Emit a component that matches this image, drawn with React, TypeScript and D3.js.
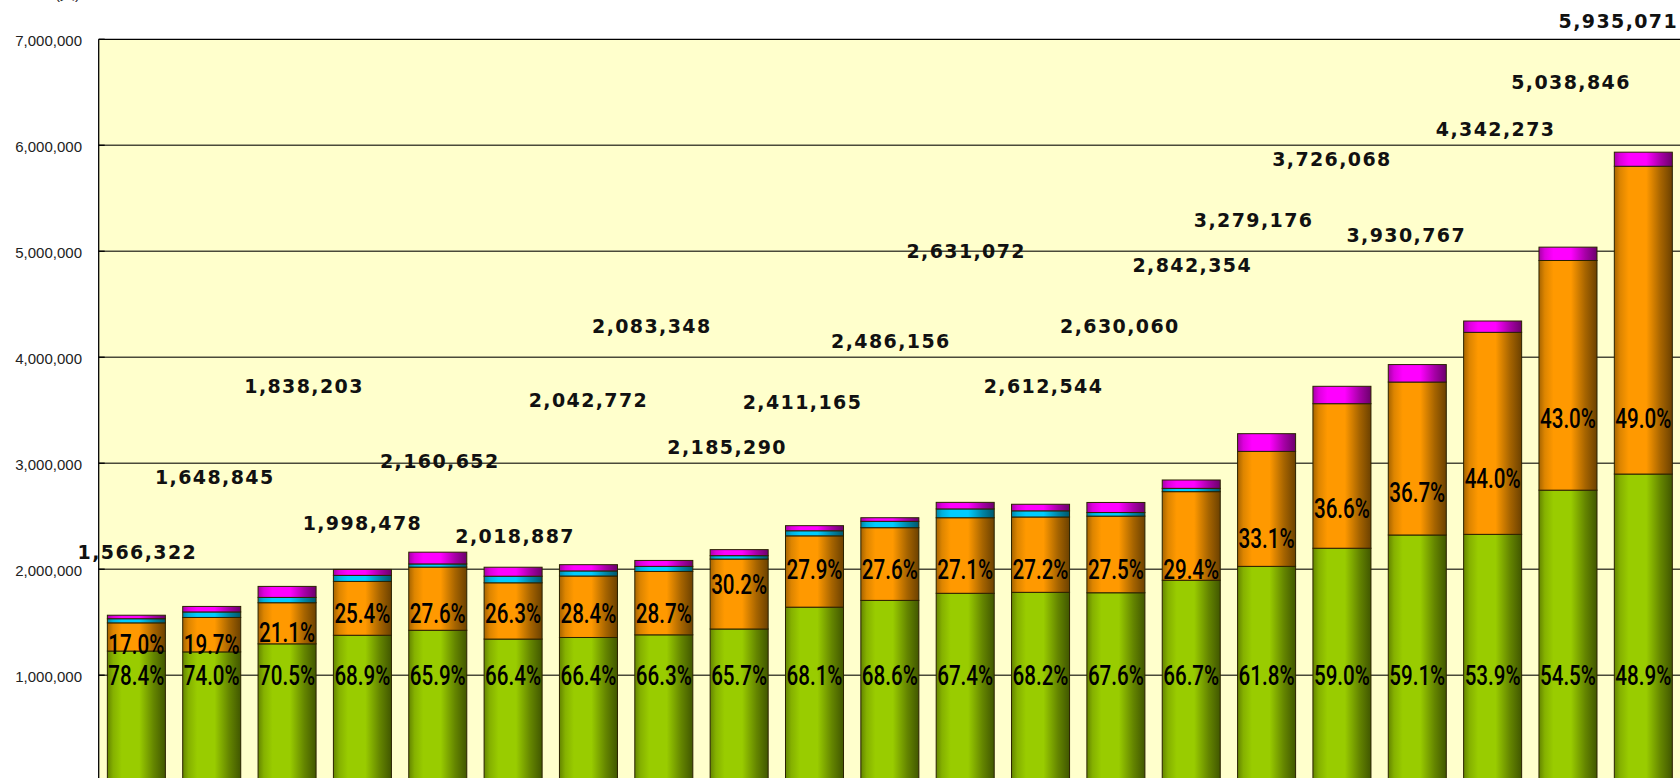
import React from "react";
import * as d3 from "d3";

// 21 stacked bars, bottom to top: green, orange, cyan, magenta
const categories = ["1", "2", "3", "4", "5", "6", "7", "8", "9", "10", "11", "12", "13", "14", "15", "16", "17", "18", "19", "20", "21"];

const greenValues = [1228000, 1220000, 1296000, 1377000, 1424000, 1341000, 1356000, 1381000, 1436000, 1642000, 1706000, 1773000, 1782000, 1778000, 1896000, 2027000, 2198000, 2323000, 2329000, 2746000, 2898000];
const orangeValues = [266000, 325000, 388000, 508000, 596000, 531000, 580000, 598000, 660000, 673000, 686000, 713000, 711000, 723000, 836000, 1085000, 1364000, 1443000, 1906000, 2167000, 2904000];
const cyanValues = [39000, 52000, 50000, 57000, 30000, 62000, 48000, 48000, 32000, 48000, 60000, 83000, 58000, 34000, 31000, 0, 0, 0, 0, 0, 0];
const magentaValues = [33000, 52000, 104000, 56000, 111000, 85000, 59000, 56000, 57000, 48000, 34000, 62000, 62000, 95000, 79000, 167000, 164000, 165000, 107000, 126000, 133000];

const totals = [1566322, 1648845, 1838203, 1998478, 2160652, 2018887, 2042772, 2083348, 2185290, 2411165, 2486156, 2631072, 2612544, 2630060, 2842354, 3279176, 3726068, 3930767, 4342273, 5038846, 5935071];

const greenPct = ["78.4%", "74.0%", "70.5%", "68.9%", "65.9%", "66.4%", "66.4%", "66.3%", "65.7%", "68.1%", "68.6%", "67.4%", "68.2%", "67.6%", "66.7%", "61.8%", "59.0%", "59.1%", "53.9%", "54.5%", "48.9%"];
const orangePct = ["17.0%", "19.7%", "21.1%", "25.4%", "27.6%", "26.3%", "28.4%", "28.7%", "30.2%", "27.9%", "27.6%", "27.1%", "27.2%", "27.5%", "29.4%", "33.1%", "36.6%", "36.7%", "44.0%", "43.0%", "49.0%"];

// where the labels sit (in axis units), as they were dragged in the original
const orangeLabelAt = [1294000, 1294000, 1408000, 1587000, 1587000, 1587000, 1587000, 1587000, 1860000, 2000000, 2000000, 2000000, 2000000, 2000000, 2000000, 2294000, 2577000, 2728000, 2860000, 3426000, 3426000];
const totalLabelAt = [2162000, 2870000, 3728000, 2436000, 3021000, 2313000, 3596000, 4294000, 3153000, 3577000, 4153000, 5002000, 3728000, 4294000, 4870000, 5294000, 5870000, 5153000, 6153000, 6596000, 7172000];
const totalLabelShift = [1, 3, 17, 0, 2, 2, 0, -12, -12, -12, 1, 1, 3, 4, 1, -13, -10, -11, 3, 3, -25];

const yTicks = [0, 1000000, 2000000, 3000000, 4000000, 5000000, 6000000, 7000000];

const seriesColors = ["#99cc00", "#ff9900", "#00ccff", "#ff00ff"];

const W = 1680;
const H = 778;
const plotLeft = 98.7;
const plotTop = 39.3;
const plotRight = 1681;
const plotBottom = 781.2;

const App = () => {
  const x = d3
    .scaleBand()
    .domain(categories)
    .range([plotLeft, plotRight])
    .paddingInner(0.23)
    .paddingOuter(0.115);

  const y = d3.scaleLinear().domain([0, 7000000]).range([plotBottom, plotTop]);

  const fmt = d3.format(",");

  const rows = categories.map((c, i) => ({
    key: c,
    g: greenValues[i],
    o: orangeValues[i],
    c: cyanValues[i],
    m: magentaValues[i],
  }));
  const stack = d3.stack().keys(["g", "o", "c", "m"])(rows as any);

  const gradId = (k) => "grad" + k;

  return (
    <svg
      width={W}
      height={H}
      style={{ position: "absolute", left: 0, top: 0, background: "#fff" }}
    >
      <defs>
        {seriesColors.map((col, k) => {
          const c = d3.color(col);
          return (
            <linearGradient id={gradId(k)} key={k} x1="0" x2="1" y1="0" y2="0">
              <stop offset="0" stopColor={c.darker(1.2).formatHex()} />
              <stop offset="0.1" stopColor={c.darker(0.4).formatHex()} />
              <stop offset="0.25" stopColor={col} />
              <stop offset="0.55" stopColor={col} />
              <stop offset="0.8" stopColor={c.darker(1.2).formatHex()} />
              <stop offset="1" stopColor={c.darker(2.4).formatHex()} />
            </linearGradient>
          );
        })}
        <clipPath id="pageClip">
          <rect x={0} y={0} width={W} height={H} />
        </clipPath>
      </defs>

      {/* unit label, almost entirely above the page */}
      <text x={80} y={-1.5} textAnchor="end" fontFamily="Liberation Sans, Arial" fontSize={15} fill="#222">
        (人)
      </text>

      <rect
        x={plotLeft}
        y={plotTop}
        width={plotRight - plotLeft}
        height={plotBottom - plotTop}
        fill="#ffffcc"
      />

      {yTicks.slice(1, -1).map((t) => (
        <line key={t} x1={plotLeft} x2={plotRight} y1={y(t)} y2={y(t)} stroke="#4a4a3a" strokeWidth={1.4} />
      ))}

      {yTicks.map((t) => (
        <g key={"t" + t}>
          <line x1={plotLeft} x2={plotLeft + 6} y1={y(t)} y2={y(t)} stroke="#000" strokeWidth={1.3} />
          <text
            x={82}
            y={y(t)}
            dy="0.45em"
            textAnchor="end"
            fontFamily="Liberation Sans, Arial, sans-serif"
            fontSize={15}
            fill="#222"
          >
            {fmt(t)}
          </text>
        </g>
      ))}

      {stack.map((layer, k) => (
        <g key={layer.key} fill={`url(#${gradId(k)})`} stroke="#2a2200" strokeWidth={1}>
          {layer.map((d, i) => {
            const h = y(d[0]) - y(d[1]);
            if (h <= 0) return null;
            return (
              <rect key={i} x={x(categories[i])} y={y(d[1])} width={x.bandwidth()} height={h} />
            );
          })}
        </g>
      ))}

      {categories.map((c, i) => (
        <g
          key={"pl" + c}
          fontFamily="Roboto, Liberation Sans, sans-serif"
          fontWeight={500}
          fontSize={28}
          fill="#000"
          textAnchor="middle"
        >
          <text
            x={x(c) + x.bandwidth() / 2}
            y={y(1000000)}
            dy="0.35em"
            textLength={56}
            lengthAdjust="spacingAndGlyphs"
          >
            {greenPct[i]}
          </text>
          <text
            x={x(c) + x.bandwidth() / 2}
            y={y(orangeLabelAt[i])}
            dy="0.35em"
            textLength={56}
            lengthAdjust="spacingAndGlyphs"
          >
            {orangePct[i]}
          </text>
        </g>
      ))}

      <g clipPath="url(#pageClip)">
        {categories.map((c, i) => (
          <text
            key={"tl" + c}
            x={x(c) + x.bandwidth() / 2 + totalLabelShift[i]}
            y={y(totalLabelAt[i])}
            dy="0.36em"
            textAnchor="middle"
            fontFamily="DejaVu Sans, Verdana, sans-serif"
            fontWeight="bold"
            fontSize={19}
            letterSpacing={1.4}
            fill="#111"
          >
            {fmt(totals[i])}
          </text>
        ))}
      </g>

      <line x1={plotLeft} x2={plotRight} y1={plotTop} y2={plotTop} stroke="#000" strokeWidth={1.3} />
      <line x1={plotLeft} x2={plotLeft} y1={plotTop} y2={plotBottom} stroke="#000" strokeWidth={1.3} />
    </svg>
  );
};

export default App;
